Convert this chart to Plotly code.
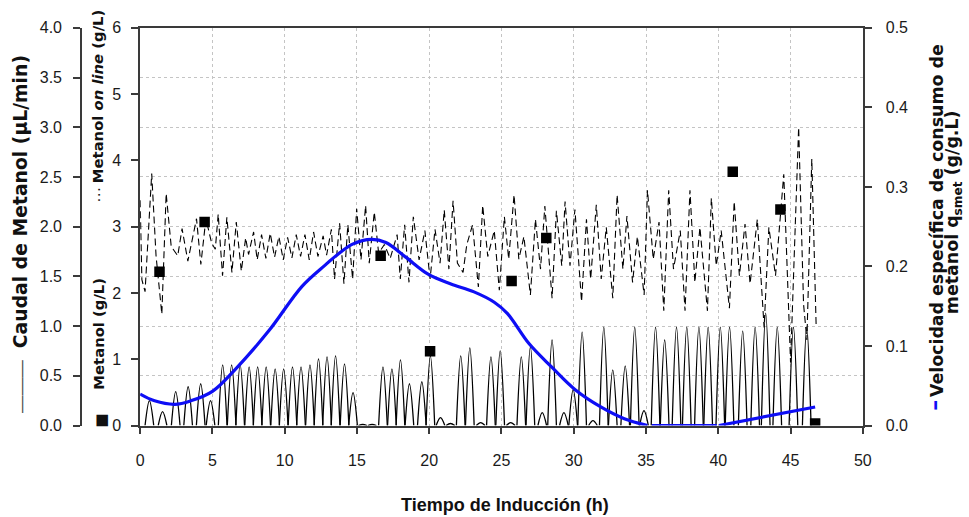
import plotly.graph_objects as go

# ---------------- data ----------------
# Methanol feed pulses (µL/min): time of each pulse maximum and its height
caudal_peak_t = [0.64, 1.55, 2.46, 3.32, 4.19, 4.87, 5.71, 6.33, 6.92, 7.54, 8.13, 8.72,
                 9.34, 9.93, 10.54, 11.13, 11.75, 12.34, 12.93, 13.52, 14.14, 14.73, 15.40,
                 16.05, 16.80, 17.42, 18.01, 18.63, 19.49, 20.08, 20.78, 21.47, 22.18, 22.81,
                 23.56, 24.27, 24.91, 25.64, 26.37, 27.00, 27.82, 28.50, 29.32, 29.96, 30.58,
                 31.33, 32.08, 32.70, 33.56, 34.22, 34.86, 35.66, 36.29, 37.11, 37.82, 38.66,
                 39.30, 40.14, 40.78, 41.69, 42.55, 43.28, 44.08, 45.20, 46.12]
caudal_peak_h = [0.25, 0.14, 0.34, 0.39, 0.42, 0.25, 0.61, 0.61, 0.61, 0.59, 0.59, 0.59,
                 0.57, 0.57, 0.59, 0.59, 0.61, 0.67, 0.69, 0.70, 0.62, 0.33, 0.01,
                 0.01, 0.59, 0.57, 0.66, 0.42, 0.44, 0.70, 0.08, 0.02, 0.70, 0.78,
                 0.03, 0.69, 0.75, 0.03, 0.69, 0.79, 0.13, 0.86, 0.13, 0.36, 0.94,
                 0.05, 0.99, 0.56, 0.60, 0.99, 0.15, 0.99, 0.86, 0.99, 0.99, 0.99,
                 0.99, 0.99, 0.99, 0.95, 0.99, 1.13, 0.99, 0.99, 0.99]

# On-line methanol sensor (g/L)
online_t = [0.0, 0.12, 0.34, 0.8, 1.1, 1.5, 1.8, 2.15, 2.6, 2.9, 3.3, 3.7, 3.9, 4.2, 4.55,
            4.95, 5.2, 5.4, 5.7, 6.0, 6.35, 6.65, 7.0, 7.3, 7.5, 7.85, 8.1, 8.4, 8.7, 9.0,
            9.3, 9.6, 9.9, 10.2, 10.5, 10.8, 11.1, 11.4, 11.7, 12.0, 12.3, 12.66, 12.9,
            13.23, 13.45, 13.8, 14.1, 14.37, 14.7, 14.98, 15.28, 15.6, 15.85, 16.2, 16.5,
            16.9, 17.3, 17.78, 18.0, 18.3, 18.6, 18.9, 19.3, 19.7, 20.06, 20.4, 20.75,
            21.04, 21.36, 21.65, 21.95, 22.34, 22.6, 23.0, 23.4, 23.7, 24.05, 24.5, 24.85,
            25.2, 25.5, 25.87, 26.2, 26.55, 27.0, 27.35, 27.7, 28.0, 28.5, 28.8, 29.17,
            29.4, 29.74, 30.08, 30.54, 30.88, 31.17, 31.56, 31.9, 32.25, 32.7, 33.0, 33.4,
            33.68, 34.07, 34.4, 34.87, 35.1, 35.5, 35.9, 36.23, 36.57, 36.9, 37.37, 37.7,
            38.04, 38.38, 38.73, 38.95, 39.25, 39.52, 39.86, 40.2, 40.77, 41.1, 41.46,
            41.85, 42.2, 42.7, 43.17, 43.5, 43.96, 44.53, 45.0, 45.56, 45.9, 46.13, 46.47,
            46.77]
online_v = [3.40, 2.20, 2.02, 3.80, 2.56, 1.68, 3.50, 2.70, 2.56, 2.97, 2.48, 2.90, 3.12, 2.43,
            3.12, 2.75, 2.66, 3.19, 2.26, 3.14, 2.31, 3.07, 2.33, 2.83, 2.58, 2.92, 2.50, 2.88,
            2.52, 2.90, 2.54, 2.85, 2.50, 2.84, 2.53, 2.88, 2.55, 2.88, 2.50, 2.92, 2.55, 2.86,
            2.57, 2.96, 2.21, 3.05, 2.14, 3.03, 2.21, 3.27, 2.50, 3.32, 2.45, 3.22, 2.60, 2.73,
            2.52, 2.88, 2.21, 3.03, 2.16, 3.15, 2.50, 2.94, 2.21, 2.96, 2.45, 3.25, 2.36, 3.39,
            2.45, 2.31, 2.73, 3.03, 2.09, 3.32, 2.55, 2.94, 2.04, 3.15, 2.51, 3.48, 2.51, 2.85,
            1.97, 3.11, 2.36, 3.31, 1.92, 3.24, 2.41, 3.38, 2.41, 3.26, 1.87, 3.11, 2.21, 3.33,
            2.21, 2.99, 1.92, 3.48, 2.36, 3.16, 2.16, 2.85, 1.97, 3.55, 2.51, 3.07, 1.73, 3.55,
            2.36, 2.94, 1.73, 3.55, 2.16, 2.99, 2.41, 1.73, 3.43, 2.41, 2.94, 1.77, 3.38, 2.26,
            3.04, 2.14, 3.11, 1.48, 2.99, 2.26, 3.79, 0.95, 4.50, 1.83, 1.29, 4.02, 1.51]

# Off-line methanol samples (g/L)
offline_t = [1.34, 4.46, 16.64, 20.06, 25.70, 28.10, 41.00, 44.30, 46.70]
offline_v = [2.32, 3.07, 2.56, 1.12, 2.18, 2.83, 3.83, 3.26, 0.03]

# Specific methanol uptake rate q_smet (g/g.L); None separates the three fitted pieces
qsmet_t = [0.0, 1.0, 2.4, 3.5, 5.0, 6.6, 8.9, 11.2, 12.8, 13.6, 14.7, 16.0, 17.0, 18.35,
           19.95, 21.5, 23.1, 24.5, 25.4, 26.9, 28.5, 30.1, 31.9, 33.5, 35.1,
           None, 35.4, 39.9,
           None, 40.05, 46.7]
qsmet_v = [0.0395, 0.031, 0.0266, 0.031, 0.043, 0.071, 0.119, 0.175, 0.2017, 0.214, 0.228,
           0.234, 0.230, 0.212, 0.190, 0.178, 0.168, 0.155, 0.141, 0.103, 0.073, 0.045,
           0.023, 0.0085, 0.0,
           None, 0.0, 0.0,
           None, 0.0, 0.0233]

x_ticks = [0, 5, 10, 15, 20, 25, 30, 35, 40, 45, 50]

# ---------------- figure ----------------
W, H = 969, 517
AXC = "#3a3a3a"
GRID = "#c4c4c4"
TICKFONT = dict(family="Liberation Sans, Arial, sans-serif", size=16, color="#1a1a1a")
TITLEFONT = "DejaVu Sans, sans-serif"


def fx(p):
    return p / W


def fy(p):
    return 1 - p / H


# each feed pulse drawn as a rounded arch rising from and returning to zero
PULSE_HALF_WIDTH = 0.3
pulse_x, pulse_y = [], []
for t, h in zip(caudal_peak_t, caudal_peak_h):
    pulse_x += [t - PULSE_HALF_WIDTH, t, t + PULSE_HALF_WIDTH, None]
    pulse_y += [0, h, 0, None]

fig = go.Figure()

fig.add_trace(go.Scatter(
    x=pulse_x, y=pulse_y, yaxis="y", mode="lines",
    line=dict(color="black", width=1.3, shape="spline"),
    connectgaps=False, hoverinfo="skip"))

fig.add_trace(go.Scatter(
    x=online_t, y=online_v, yaxis="y2", mode="lines",
    line=dict(color="black", width=1.1, dash="7px,4px")))

fig.add_trace(go.Scatter(
    x=qsmet_t, y=qsmet_v, yaxis="y3", mode="lines",
    line=dict(color="rgb(14,14,245)", width=3.2, shape="spline"),
    connectgaps=False))

fig.add_trace(go.Scatter(
    x=offline_t, y=offline_v, yaxis="y2", mode="markers",
    marker=dict(symbol="square", size=10.5, color="black")))

xdom = [fx(138), fx(870.5)]
ydom = [fy(431.7), fy(20.5)]

common_axis = dict(showline=True, linecolor=AXC, linewidth=1.5, ticks="outside",
                   ticklen=7, tickwidth=1.5, tickcolor=AXC, zeroline=False,
                   tickfont=TICKFONT, fixedrange=True)

fig.update_layout(
    width=W, height=H, autosize=False,
    margin=dict(l=0, r=0, t=0, b=0),
    paper_bgcolor="white", plot_bgcolor="white",
    showlegend=False,
    xaxis=dict(domain=xdom, range=[0, 50], tickvals=x_ticks, mirror=True,
               showgrid=True, gridcolor=GRID, griddash="dot", gridwidth=1,
               ticklabelstandoff=13, **common_axis),
    yaxis=dict(domain=ydom, range=[0, 4], dtick=0.5, tickformat=".1f",
               anchor="free", position=fx(78), side="left",
               showgrid=True, gridcolor=GRID, griddash="dot", gridwidth=1,
               ticklabelstandoff=8, **common_axis),
    yaxis2=dict(domain=ydom, range=[0, 6], dtick=1, overlaying="y", anchor="x",
                side="left", showgrid=False, ticklabelstandoff=7, **common_axis),
    yaxis3=dict(domain=ydom, range=[0, 0.5], dtick=0.1, tickformat=".1f",
                overlaying="y", anchor="x", side="right", showgrid=False,
                ticklabelstandoff=11, **common_axis),
)


def note(text, x, y, size, angle=-90, color="#111", family=TITLEFONT):
    fig.add_annotation(text=text, x=fx(x), y=fy(y), xref="paper", yref="paper",
                       xanchor="center", yanchor="middle", showarrow=False,
                       textangle=angle, font=dict(family=family, size=size, color=color))


# axis titles with their line / symbol keys
note("———", 17, 391, 17.6, color="#555", family="Liberation Sans, Arial, sans-serif")
note("<b>Caudal de Metanol (µL/min)</b>", 17.5, 200.5, 18.8)

note("···", 95.5, 193, 16, color="#111", family="Liberation Sans, Arial, sans-serif")
note("<b>Metanol <i>on line</i> (g/L)</b>", 95.5, 92, 14.8)

note("■", 98, 427, 15)
note("<b>Metanol (g/L)</b>", 95.5, 336.5, 14.8)

note("<b>–</b>", 943, 411, 22, color="rgb(14,14,245)")
note("<b>Velocidad específica de consumo de</b>", 945, 220, 17.4)
note("<b>metanol q<sub>smet</sub> (g/g.L)</b>", 962, 211, 17.4)

note("<b>Tiempo de Inducción (h)</b>", 507.5, 514, 18, angle=0,
     family="Liberation Sans, Arial, sans-serif")

fig.write_html("out.html")
